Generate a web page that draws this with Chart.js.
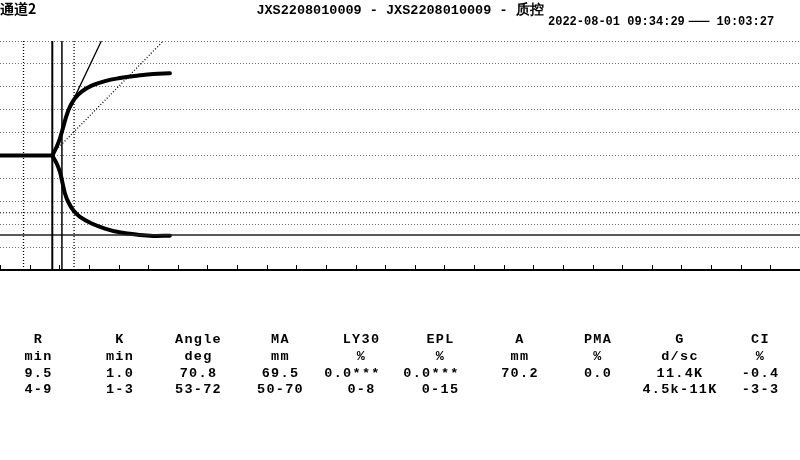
<!DOCTYPE html>
<html>
<head>
<meta charset="utf-8">
<script src="https://cdn.jsdelivr.net/npm/chart.js@4.4.1/dist/chart.umd.min.js"></script>
<style>
  html, body { margin: 0; padding: 0; background: #fff; }
  #wrap { width: 800px; height: 460px; position: relative; }
</style>
</head>
<body>
<div id="wrap"><canvas id="c" width="800" height="460"></canvas></div>
<script>
// ---------- DATA ----------
const channelLabel = '通道2';
const chartTitle = 'JXS2208010009 - JXS2208010009 - 质控';
const dateStart = '2022-08-01 09:34:29';
const dateEnd = '10:03:27';

// trace (time units, amplitude mm; upper half positive, lower half negative)
const baselineX = [0, 1.765];
const baselineY = [0, 0];
const upperX = [1.765, 1.913, 2.024, 2.136, 2.250, 2.362, 2.530, 2.756, 3.094, 3.543, 3.991, 4.723, 5.172, 5.735];
const upperY = [0, 3.8, 7.5, 12.5, 17.6, 21.3, 25.0, 27.9, 30.5, 32.5, 33.7, 35.0, 35.6, 35.9];
const lowerX = [1.765, 1.913, 2.024, 2.102, 2.193, 2.304, 2.473, 2.699, 3.094, 3.543, 3.991, 4.723, 5.172, 5.735];
const lowerY = [0, -3.5, -7.2, -11.5, -16.6, -20.3, -23.9, -26.8, -29.7, -31.9, -33.4, -34.7, -35.1, -35.0];

// markers
const solidMarks = [1.765, 2.09];      // R, K lines
const dottedMarks = [0.793, 2.50];     // reference lines
const maLevel = -34.75;                // MA line
const maLowLevel = -25;                // lower MA reference
const tangentX = [2.52, 3.42];
const tangentY = [25.5, 50];
const angleRefX = [1.90, 5.51];
const angleRefY = [2.5, 50];

// axis ranges
const xMin = 0, xMax = 27, xStep = 1;
const yMin = -50, yMax = 50, yStep = 10;

// result table
const paramNames = ['R', 'K', 'Angle', 'MA', 'LY30', 'EPL', 'A', 'PMA', 'G', 'CI'];
const paramUnits = ['min', 'min', 'deg', 'mm', '%', '%', 'mm', '%', 'd/sc', '%'];
const paramValues = ['9.5', '1.0', '70.8', '69.5', '0.0***', '0.0***', '70.2', '0.0', '11.4K', '-0.4'];
const paramRanges = ['4-9', '1-3', '53-72', '50-70', '0-8', '0-15', '', '', '4.5k-11K', '-3-3'];

// ---------- BUILD ----------
const pts = (xs, ys) => xs.map((x, i) => ({ x: x, y: ys[i] }));
const vline = x => [{ x: x, y: yMin }, { x: x, y: yMax }];
const hline = y => [{ x: xMin, y: y }, { x: xMax, y: y }];

const base = { pointRadius: 0, borderColor: '#000', fill: false, clip: false, tension: 0 };
const datasets = [];
solidMarks.forEach((m, i) => datasets.push(Object.assign({}, base, { data: vline(m), borderWidth: i === 0 ? 2 : 1.5 })));
dottedMarks.forEach(m => datasets.push(Object.assign({}, base, { data: vline(m), borderWidth: 1.3, borderDash: [1, 2] })));
datasets.push(Object.assign({}, base, { data: hline(maLowLevel), borderWidth: 1.2, borderDash: [1, 2] }));
datasets.push(Object.assign({}, base, { data: hline(maLevel), borderWidth: 1.5, borderColor: '#222' }));
datasets.push(Object.assign({}, base, { data: pts(angleRefX, angleRefY), borderWidth: 1.3, borderDash: [1, 2] }));
datasets.push(Object.assign({}, base, { data: pts(tangentX, tangentY), borderWidth: 1.3 }));
datasets.push(Object.assign({}, base, { data: pts(baselineX, baselineY), borderWidth: 4, borderCapStyle: 'butt' }));
datasets.push(Object.assign({}, base, { data: pts(upperX, upperY), borderWidth: 4, tension: 0.4, borderCapStyle: 'round', borderJoinStyle: 'round' }));
datasets.push(Object.assign({}, base, { data: pts(lowerX, lowerY), borderWidth: 4, tension: 0.4, borderCapStyle: 'round', borderJoinStyle: 'round' }));

const MONO = "'Liberation Mono', 'DejaVu Sans Mono', monospace";
const CJK = "'Noto Sans CJK SC', sans-serif";

const upTicks = {
  id: 'upTicks',
  afterDraw(chart) {
    const sx = chart.scales.x;
    const ctx = chart.ctx;
    const yb = chart.chartArea.bottom;
    ctx.save();
    ctx.strokeStyle = '#000';
    ctx.lineWidth = 1;
    sx.ticks.forEach(t => {
      const px = Math.round(sx.getPixelForValue(t.value)) + 0.5;
      ctx.beginPath();
      ctx.moveTo(px, yb);
      ctx.lineTo(px, yb - 5);
      ctx.stroke();
    });
    ctx.restore();
  }
};

const texts = {
  id: 'texts',
  afterDraw(chart) {
    const ctx = chart.ctx;
    ctx.save();
    ctx.fillStyle = '#000';
    ctx.textBaseline = 'alphabetic';
    // channel label
    ctx.textAlign = 'left';
    ctx.font = "bold 14px " + CJK;
    ctx.fillText(channelLabel, 0, 14);
    // date/time
    ctx.font = "bold 12px " + MONO;
    ctx.fillText(dateStart, 548, 25);
    ctx.font = "bold 13px " + CJK;
    ctx.fillText('——', 688, 25);
    ctx.font = "bold 12px " + MONO;
    ctx.fillText(dateEnd, 716.5, 25);
    // table
    const colX = [38.5, 120, 198.5, 280.5, 361.5, 440.5, 520, 598, 680, 760.5];
    const rowsY = [343, 359.5, 376.5, 393];
    const rows = [paramNames, paramUnits, paramValues, paramRanges];
    ctx.textAlign = 'center';
    ctx.font = "bold 13.5px " + MONO;
    if ('letterSpacing' in ctx) ctx.letterSpacing = '1.3px';
    rows.forEach((row, r) => {
      row.forEach((s, c) => {
        if (!s) return;
        const off = s.endsWith('***') ? -9 : 0;
        ctx.fillText(s, colX[c] + off, rowsY[r]);
      });
    });
    ctx.restore();
  }
};

new Chart(document.getElementById('c'), {
  type: 'line',
  data: { datasets: datasets },
  options: {
    responsive: false,
    animation: false,
    devicePixelRatio: 1,
    layout: { padding: { left: 0, right: 0, top: 0, bottom: 190 } },
    plugins: {
      legend: { display: false },
      tooltip: { enabled: false },
      title: {
        display: true,
        text: chartTitle,
        align: 'center',
        color: '#000',
        font: { family: MONO, size: 13.5, weight: 'bold', lineHeight: 1 },
        padding: { top: 4, bottom: 23.5 }
      }
    },
    scales: {
      x: {
        type: 'linear',
        min: xMin, max: xMax,
        ticks: { display: false, stepSize: xStep },
        grid: { display: false, drawTicks: false },
        border: { display: true, color: '#000', width: 2 }
      },
      y: {
        type: 'linear',
        min: yMin, max: yMax,
        ticks: { display: false, stepSize: yStep },
        grid: { display: true, drawTicks: false, color: '#6e6e6e', lineWidth: 1 },
        border: { display: false, dash: [1, 2] }
      }
    }
  },
  plugins: [upTicks, texts]
});
</script>
</body>
</html>
